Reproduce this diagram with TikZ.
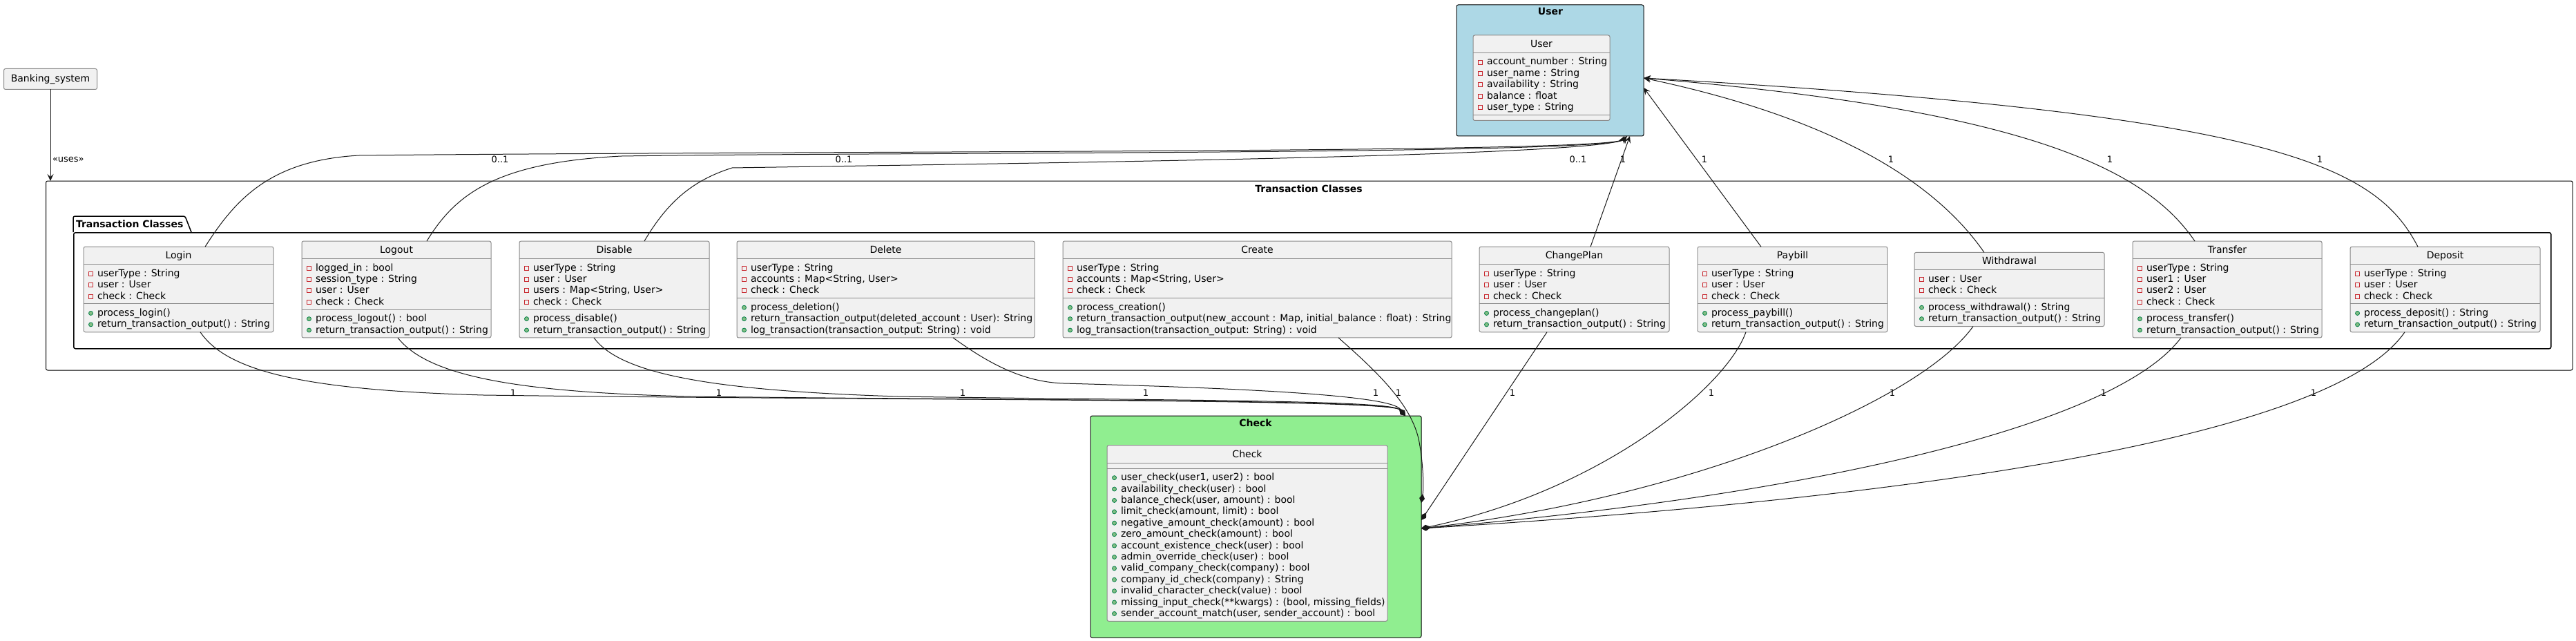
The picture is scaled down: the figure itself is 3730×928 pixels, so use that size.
\documentclass[tikz,border=0pt]{standalone}
\usepackage{fontspec}
\setmainfont{DejaVu Sans}
\usetikzlibrary{arrows.meta}
\definecolor{clsfill}{HTML}{F1F1F1}
\definecolor{clsline}{HTML}{8A8A8A}
\definecolor{edgec}{HTML}{181818}
\definecolor{privred}{HTML}{C82930}
\definecolor{pubfill}{HTML}{84BE84}
\definecolor{publine}{HTML}{038048}
\definecolor{ublue}{HTML}{ADD8E6}
\definecolor{cgreen}{HTML}{90EE90}
\newcount\lncount
\tikzset{
  classbox/.style={rectangle, draw=clsline, fill=clsfill, line width=1pt, rounded corners=2.5pt, inner sep=0pt, outer sep=0pt},
  sepline/.style={draw=clsline, line width=1pt},
  txt/.style={inner sep=0pt, outer sep=0pt, font=\fontsize{14}{16}\selectfont},
  btxt/.style={inner sep=0pt, outer sep=0pt, font=\fontsize{14}{16}\selectfont\bfseries},
  lbl/.style={inner sep=0pt, outer sep=0pt, font=\fontsize{13}{15}\selectfont},
  privicon/.style={draw=privred, line width=0.9pt},
  pubicon/.style={draw=publine, fill=pubfill, line width=0.8pt},
  framebox/.style={rectangle, draw=black, line width=1pt, rounded corners=2.5pt, inner sep=0pt, outer sep=0pt},
  pkgline/.style={draw=black, line width=1.5pt},
  edgeline/.style={draw=edgec, line width=1pt},
  assoc/.style={edgeline, -{Stealth[length=10pt,width=9pt,inset=4pt]}},
  comp/.style={edgeline, -{Diamond[length=13pt,width=8pt]}},
}
\newcommand\clsattr[1]{%
  \global\advance\lncount by 1
  \draw[privicon] ({\umlx+7.5},{\umly-2}) rectangle ({\umlx+13.5},{\umly+4});
  \node[txt, anchor=base west] (ln\the\lncount) at ({\umlx+20},{\umly+5}) {#1};
  \pgfmathsetmacro\umltmp{\umly+16.4}\xdef\umly{\umltmp}%
}
\newcommand\clsmeth[1]{%
  \global\advance\lncount by 1
  \draw[pubicon] ({\umlx+10.5},{\umly+1}) circle[radius=3pt];
  \node[txt, anchor=base west] (ln\the\lncount) at ({\umlx+20},{\umly+5}) {#1};
  \pgfmathsetmacro\umltmp{\umly+16.4}\xdef\umly{\umltmp}%
}
% #1 id, #2 x1, #3 x2, #4 centre y, #5 n attrs, #6 n meths, #7 name, #8 attrs, #9 meths
\newcommand\umlclass[9]{%
  \pgfmathsetmacro\cH{41.5+16.4*(#5+#6)}%
  \pgfmathsetmacro\cTop{#4-\cH/2}%
  \pgfmathsetmacro\cSepA{\cTop+25.5}%
  \pgfmathsetmacro\cSepB{\cSepA+16.4*#5+8}%
  \pgfmathsetmacro\cW{#3-#2}%
  \node[classbox, minimum width=\cW pt, minimum height=\cH pt, anchor=north west] (#1) at (#2,\cTop) {};
  \draw[sepline] (#2,\cSepA) -- (#3,\cSepA);
  \draw[sepline] (#2,\cSepB) -- (#3,\cSepB);
  \node[txt, anchor=base] (#1-name) at ({(#2+#3)/2},{\cTop+17.5}) {#7};
  \xdef\umlx{#2}%
  \pgfmathsetmacro\umltmp{\cSepA+12.5}\xdef\umly{\umltmp}%
  #8%
  \pgfmathsetmacro\umltmp{\cSepB+12.5}\xdef\umly{\umltmp}%
  #9%
}
\begin{document}
\begin{tikzpicture}[x=1pt,y=-1pt]
\useasboundingbox (0,0) rectangle (3730,928);

% ---------- Banking system ----------
\node[classbox, minimum width=135pt, minimum height=30pt] (bank) at (73,114.5) {};
\node[txt] (bank-name) at (73,114.5) {Banking\_system};

% ---------- Transaction Classes frame ----------
\node[framebox, fill=white, minimum width=3658.5pt, minimum height=274pt, anchor=north west] (tframe) at (66.5,262) {};
\node[btxt, anchor=base] (tframe-title) at (1895,278) {Transaction Classes};

% package
\node[rectangle, draw=black, line width=1.5pt, rounded corners=2.5pt, inner sep=0pt, minimum width=3587pt, minimum height=168pt, anchor=north west] (pkg) at (106,336) {};
\draw[pkgline, rounded corners=2.5pt] (pkg.north west) -- ++(0,-23) -- ++(162,0) -- ++(9,23);
\node[btxt, anchor=base west] (pkg-title) at (110,329) {Transaction Classes};

% ---------- User frame ----------
\node[framebox, fill=ublue, minimum width=271pt, minimum height=190pt, anchor=north west] (userpkg) at (2109,7) {};
\node[btxt, anchor=base] (userpkg-title) at (2245,22) {User};
\umlclass{user}{2133}{2331}{112.75}{5}{0}{User}{%
  \clsattr{account\_number : String}\clsattr{user\_name : String}\clsattr{availability : String}\clsattr{balance : float}\clsattr{user\_type : String}}{}

% ---------- Check frame ----------
\node[framebox, fill=cgreen, minimum width=479pt, minimum height=321pt, anchor=north west] (checkpkg) at (1579,602) {};
\node[btxt, anchor=base] (checkpkg-title) at (1818,617) {Check};
\umlclass{check}{1603}{2009}{772}{0}{13}{Check}{}{%
  \clsmeth{user\_check(user1, user2) : bool}%
  \clsmeth{availability\_check(user) : bool}%
  \clsmeth{balance\_check(user, amount) : bool}%
  \clsmeth{limit\_check(amount, limit) : bool}%
  \clsmeth{negative\_amount\_check(amount) : bool}%
  \clsmeth{zero\_amount\_check(amount) : bool}%
  \clsmeth{account\_existence\_check(user) : bool}%
  \clsmeth{admin\_override\_check(user) : bool}%
  \clsmeth{valid\_company\_check(company) : bool}%
  \clsmeth{company\_id\_check(company) : String}%
  \clsmeth{invalid\_character\_check(value) : bool}%
  \clsmeth{missing\_input\_check(**kwargs) : (bool, missing\_fields)}%
  \clsmeth{sender\_account\_match(user, sender\_account) : bool}}

% ---------- Transaction classes ----------
\umlclass{login}{121}{396}{419}{3}{2}{Login}{%
  \clsattr{userType : String}\clsattr{user : User}\clsattr{check : Check}}{%
  \clsmeth{process\_login()}\clsmeth{return\_transaction\_output() : String}}
\umlclass{logout}{437}{711}{419}{4}{2}{Logout}{%
  \clsattr{logged\_in : bool}\clsattr{session\_type : String}\clsattr{user : User}\clsattr{check : Check}}{%
  \clsmeth{process\_logout() : bool}\clsmeth{return\_transaction\_output() : String}}
\umlclass{disable}{752}{1027}{419}{4}{2}{Disable}{%
  \clsattr{userType : String}\clsattr{user : User}\clsattr{users : Map<String, User>}\clsattr{check : Check}}{%
  \clsmeth{process\_disable()}\clsmeth{return\_transaction\_output() : String}}
\umlclass{delete}{1067}{1498}{419}{3}{3}{Delete}{%
  \clsattr{userType : String}\clsattr{accounts : Map<String, User>}\clsattr{check : Check}}{%
  \clsmeth{process\_deletion()}\clsmeth{return\_transaction\_output(deleted\_account : User): String}\clsmeth{log\_transaction(transaction\_output: String) : void}}
\umlclass{create}{1539}{2102}{419}{3}{3}{Create}{%
  \clsattr{userType : String}\clsattr{accounts : Map<String, User>}\clsattr{check : Check}}{%
  \clsmeth{process\_creation()}\clsmeth{return\_transaction\_output(new\_account : Map, initial\_balance : float) : String}\clsmeth{log\_transaction(transaction\_output: String) : void}}
\umlclass{changeplan}{2142}{2417}{419}{3}{2}{ChangePlan}{%
  \clsattr{userType : String}\clsattr{user : User}\clsattr{check : Check}}{%
  \clsmeth{process\_changeplan()}\clsmeth{return\_transaction\_output() : String}}
\umlclass{paybill}{2458}{2733}{419}{3}{2}{Paybill}{%
  \clsattr{userType : String}\clsattr{user : User}\clsattr{check : Check}}{%
  \clsmeth{process\_paybill()}\clsmeth{return\_transaction\_output() : String}}
\umlclass{withdrawal}{2772}{3047}{419}{2}{2}{Withdrawal}{%
  \clsattr{user : User}\clsattr{check : Check}}{%
  \clsmeth{process\_withdrawal() : String}\clsmeth{return\_transaction\_output() : String}}
\umlclass{transfer}{3088}{3362}{419}{4}{2}{Transfer}{%
  \clsattr{userType : String}\clsattr{user1 : User}\clsattr{user2 : User}\clsattr{check : Check}}{%
  \clsmeth{process\_transfer()}\clsmeth{return\_transaction\_output() : String}}
\umlclass{deposit}{3403}{3678}{419}{3}{2}{Deposit}{%
  \clsattr{userType : String}\clsattr{user : User}\clsattr{check : Check}}{%
  \clsmeth{process\_deposit() : String}\clsmeth{return\_transaction\_output() : String}}

% ---------- uses ----------
\draw[assoc] (bank.south) -- (bank.south |- tframe.north);
\node[lbl, anchor=west] (uses) at (76,231) {«uses»};

% ---------- associations to User ----------
\draw[assoc] ([xshift=176pt]login.north west) .. controls (340,290) and (390,232) .. (520,225) .. controls (1200,218) and (2340,222) .. ([xshift=243pt]userpkg.south west);
\draw[assoc] ([xshift=181pt]logout.north west) .. controls (660,280) and (720,235) .. (900,226) .. controls (1300,220) and (2338,224) .. ([xshift=246pt]userpkg.south west);
\draw[assoc] ([xshift=181pt]disable.north west) .. controls (965,295) and (1000,262) .. (1060,243) .. controls (1500,236) and (2330,226) .. ([xshift=247pt]userpkg.south west);
\draw[assoc] ([xshift=161pt]changeplan.north west) -- ([xshift=251pt]userpkg.south west);
\draw[assoc] ([xshift=92pt]paybill.north west) -- ([yshift=-120pt]userpkg.north east);
\draw[assoc] ([xshift=101pt]withdrawal.north west) .. controls (2800,260) and (2650,170) .. ([yshift=-106pt]userpkg.north east);
\draw[assoc] ([xshift=90pt]transfer.north west) .. controls (3110,250) and (2950,160) .. ([yshift=-106pt]userpkg.north east);
\draw[assoc] ([xshift=98pt]deposit.north west) .. controls (3440,240) and (3300,165) .. ([yshift=-106pt]userpkg.north east);

\node[lbl] (u1) at (724,231) {0..1};
\node[lbl] (u2) at (1222,231) {0..1};
\node[lbl] (u3) at (2285,231) {0..1};
\node[lbl] (u4) at (2350,231) {1};
\node[lbl] (u5) at (2468,231) {1};
\node[lbl] (u6) at (2738,231) {1};
\node[lbl] (u7) at (3055,231) {1};
\node[lbl] (u8) at (3359,231) {1};

% ---------- compositions to Check ----------
\draw[comp] ([xshift=169pt]login.south west) .. controls (330,540) and (450,565) .. (700,572) .. controls (1300,580) and (2012,577) .. ([xshift=456pt]checkpkg.north west);
\draw[comp] ([xshift=139pt]logout.south west) .. controls (620,545) and (750,568) .. (1000,574) .. controls (1500,580) and (2013,578) .. ([xshift=456pt]checkpkg.north west);
\draw[comp] ([xshift=108pt]disable.south west) .. controls (900,545) and (1050,566) .. (1300,574) .. controls (1700,580) and (2014,579) .. ([xshift=456pt]checkpkg.north west);
\draw[comp] ([xshift=313pt]delete.south west) .. controls (1430,525) and (1480,553) .. (1540,555) .. controls (1800,562) and (2012,572) .. ([xshift=456pt]checkpkg.north west);
\draw[comp] ([xshift=399pt]create.south west) .. controls (1990,535) and (2045,585) .. (2055,640) .. controls (2062,680) and (2061,710) .. ([yshift=-126pt]checkpkg.north east);
\draw[comp] ([xshift=98pt]changeplan.south west) -- ([yshift=-151pt]checkpkg.north east);
\draw[comp] ([xshift=70pt]paybill.south west) .. controls (2500,560) and (2320,710) .. ([yshift=-163pt]checkpkg.north east);
\draw[comp] ([xshift=85pt]withdrawal.south west) .. controls (2780,580) and (2450,720) .. ([yshift=-163pt]checkpkg.north east);
\draw[comp] ([xshift=70pt]transfer.south west) .. controls (3060,620) and (2600,720) .. ([yshift=-163pt]checkpkg.north east);
\draw[comp] ([xshift=79pt]deposit.south west) .. controls (3380,630) and (2800,720) .. ([yshift=-163pt]checkpkg.north east);

\node[lbl] (c1) at (743,569) {1};
\node[lbl] (c2) at (1041,569) {1};
\node[lbl] (c3) at (1394,569) {1};
\node[lbl] (c4) at (1659,569) {1};
\node[lbl] (c5) at (1992,569) {1};
\node[lbl] (c6) at (2025,569) {1};
\node[lbl] (c7) at (2190,569) {1};
\node[lbl] (c8) at (2478,569) {1};
\node[lbl] (c9) at (2740,569) {1};
\node[lbl] (c10) at (3046,569) {1};
\node[lbl] (c11) at (3350,569) {1};
\end{tikzpicture}
\end{document}
